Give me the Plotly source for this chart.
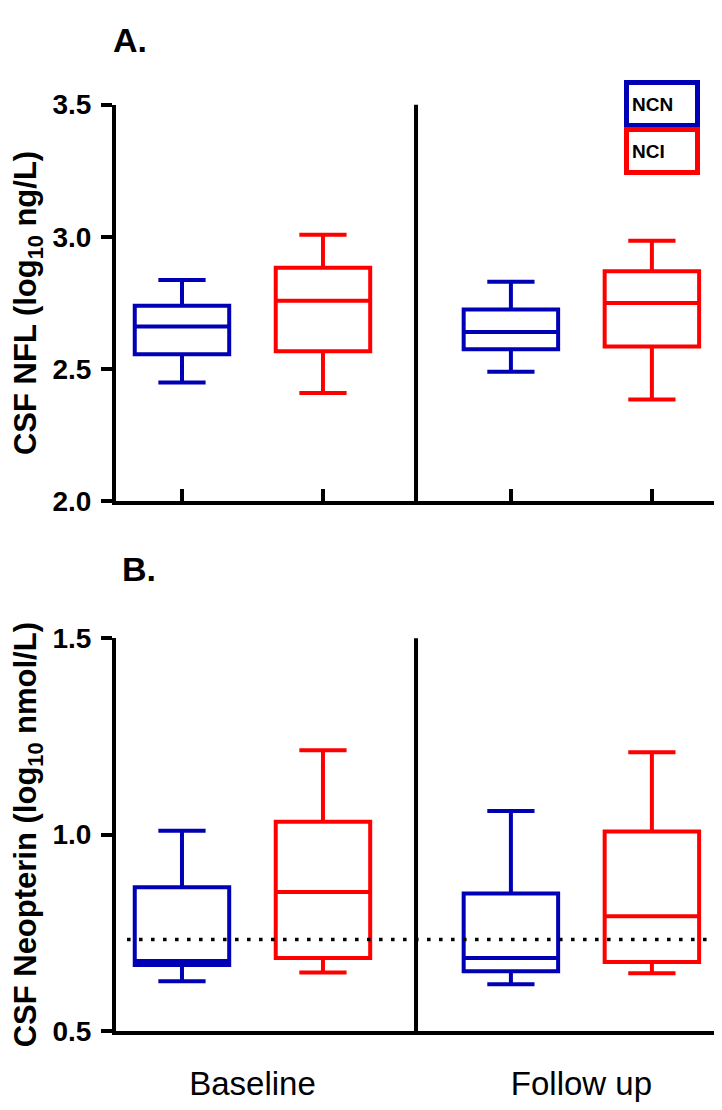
import plotly.graph_objects as go

# groups along the x axis
timepoints = ["Baseline", "Follow up"]
cohorts = ["NCN", "NCI"]

# CSF NFL (log10 ng/L): [Baseline, Follow up]
nfl_ncn_low = [2.449, 2.490]
nfl_ncn_q1 = [2.556, 2.575]
nfl_ncn_med = [2.661, 2.640]
nfl_ncn_q3 = [2.739, 2.725]
nfl_ncn_high = [2.837, 2.830]

nfl_nci_low = [2.409, 2.385]
nfl_nci_q1 = [2.567, 2.585]
nfl_nci_med = [2.758, 2.750]
nfl_nci_q3 = [2.883, 2.870]
nfl_nci_high = [3.008, 2.985]

# CSF Neopterin (log10 nmol/L): [Baseline, Follow up]
neo_ncn_low = [0.627, 0.619]
neo_ncn_q1 = [0.668, 0.652]
neo_ncn_med = [0.678, 0.686]
neo_ncn_q3 = [0.866, 0.850]
neo_ncn_high = [1.010, 1.060]

neo_nci_low = [0.649, 0.647]
neo_nci_q1 = [0.686, 0.676]
neo_nci_med = [0.854, 0.792]
neo_nci_q3 = [1.033, 1.008]
neo_nci_high = [1.215, 1.210]

neo_reference = 0.733

nfl_ticks = [2.0, 2.5, 3.0, 3.5]
neo_ticks = [0.5, 1.0, 1.5]

BLUE = "#0000B4"
RED = "#FF0000"
FONT = "Liberation Sans, Arial, sans-serif"

GROUP_STEP = 2.333  # distance between the first box of each timepoint
x_ncn = [1 + i * GROUP_STEP for i in range(len(timepoints))]
x_nci = [x + 1 for x in x_ncn]
x_label = [x + 0.5 for x in x_ncn]
x_split = 2.66


def add_boxes(fig, xs, low, q1, med, q3, high, color, xref, yref):
    fig.add_trace(go.Box(
        x=xs, lowerfence=low, q1=q1, median=med, q3=q3, upperfence=high,
        width=0.67, whiskerwidth=0.5, boxpoints=False,
        line=dict(color=color, width=4), fillcolor="rgba(255,255,255,0)",
        showlegend=False, hoverinfo="skip", xaxis=xref, yaxis=yref,
    ))


fig = go.Figure()
add_boxes(fig, x_ncn, nfl_ncn_low, nfl_ncn_q1, nfl_ncn_med, nfl_ncn_q3, nfl_ncn_high, BLUE, "x", "y")
add_boxes(fig, x_nci, nfl_nci_low, nfl_nci_q1, nfl_nci_med, nfl_nci_q3, nfl_nci_high, RED, "x", "y")
add_boxes(fig, x_ncn, neo_ncn_low, neo_ncn_q1, neo_ncn_med, neo_ncn_q3, neo_ncn_high, BLUE, "x2", "y2")
add_boxes(fig, x_nci, neo_nci_low, neo_nci_q1, neo_nci_med, neo_nci_q3, neo_nci_high, RED, "x2", "y2")

x_range = [0.532, 4.887]
axis_common = dict(showline=True, linewidth=4, linecolor="black", showgrid=False,
                   zeroline=False, mirror=False)

fig.update_layout(
    width=722, height=1110,
    margin=dict(l=108, r=0, t=0, b=0),
    paper_bgcolor="white", plot_bgcolor="white",
    boxmode="overlay",
    xaxis=dict(**axis_common, domain=[0, 1], range=x_range, anchor="y",
               tickvals=x_ncn + x_nci, ticks="inside", ticklen=12, tickwidth=4,
               tickcolor="black", showticklabels=False),
    yaxis=dict(**axis_common, domain=[0.5568, 0.9243], range=[2.0, 3.5], anchor="x",
               tickvals=nfl_ticks, tickformat=".1f", ticks="outside", ticklen=11,
               tickwidth=4, tickcolor="black", ticklabelstandoff=4,
               tickfont=dict(family=FONT, size=28, color="black", weight="bold"),
               title=dict(text="CSF NFL (log<sub>10</sub> ng/L)", standoff=10,
                          font=dict(family=FONT, size=31, color="black", weight="bold"))),
    xaxis2=dict(**axis_common, domain=[0, 1], range=x_range, anchor="y2",
                tickvals=x_label, ticktext=timepoints, ticks="",
                ticklabelstandoff=20,
                tickfont=dict(family=FONT, size=33, color="black")),
    yaxis2=dict(**axis_common, domain=[0.0658, 0.4297], range=[0.5, 1.5], anchor="x2",
                tickvals=neo_ticks, tickformat=".1f", ticks="outside", ticklen=11,
                tickwidth=4, tickcolor="black", ticklabelstandoff=4,
                tickfont=dict(family=FONT, size=28, color="black", weight="bold"),
                title=dict(text="CSF Neopterin (log<sub>10</sub> nmol/L)", standoff=10,
                           font=dict(family=FONT, size=31, color="black", weight="bold"))),
)

# divider between timepoints
fig.add_shape(type="line", xref="x", yref="y domain", x0=x_split, x1=x_split, y0=0, y1=1,
              line=dict(color="black", width=4))
fig.add_shape(type="line", xref="x2", yref="y2 domain", x0=x_split, x1=x_split, y0=0, y1=1,
              line=dict(color="black", width=4))

# dotted reference line in panel B
fig.add_shape(type="line", xref="x2 domain", yref="y2", x0=0.018, x1=1,
              y0=neo_reference, y1=neo_reference,
              line=dict(color="black", width=3.5, dash="3.5px,8.5px"))

# panel letters
for letter, xpos, ypos in [("A.", -0.008, 0.9847), ("B.", 0.006, 0.4937)]:
    fig.add_annotation(text=letter, xref="paper", yref="paper", x=xpos,
                       y=ypos, xanchor="left", yanchor="middle", showarrow=False,
                       font=dict(family=FONT, size=34, color="black", weight="bold"))

# legend boxes
for name, color, ypos in [(cohorts[0], BLUE, 0.9248), (cohorts[1], RED, 0.8815)]:
    fig.add_annotation(text=name, xref="paper", yref="paper", x=0.890, y=ypos,
                       xanchor="center", yanchor="middle", showarrow=False,
                       width=60, height=32, align="left", borderpad=3, borderwidth=5,
                       bordercolor=color, bgcolor="white",
                       font=dict(family=FONT, size=19, color="black", weight="bold"))

fig.write_html("out.html")
